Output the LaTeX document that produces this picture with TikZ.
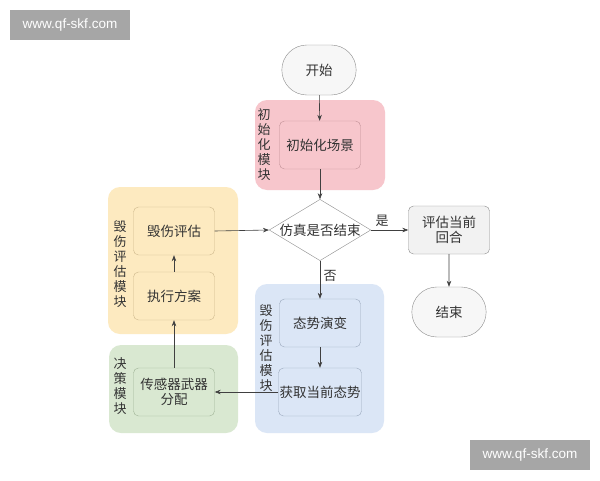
\documentclass[tikz,border=0pt]{standalone}
\usepackage{fontspec}
\setmainfont{Noto Sans CJK SC}
\newfontfamily\wmfont{Liberation Sans}
\usetikzlibrary{shapes.geometric,shapes.misc,arrows.meta}
\definecolor{pinkg}{HTML}{F7C6CC}
\definecolor{pinkb}{HTML}{C09096}
\definecolor{yelg}{HTML}{FDEAC0}
\definecolor{yelb}{HTML}{CDB78C}
\definecolor{blug}{HTML}{DBE6F6}
\definecolor{blub}{HTML}{9AA8BC}
\definecolor{greg}{HTML}{D9E8D1}
\definecolor{greb}{HTML}{9FB396}
\definecolor{txt}{HTML}{333333}
\begin{document}
\begin{tikzpicture}[x=1pt,y=-1pt,
  font=\fontsize{13.5}{15}\selectfont, text=txt,
  grp/.style={draw=none,rounded corners=12pt},
  inbox/.style={draw=#1,rounded corners=5pt,minimum width=81pt,minimum height=48pt,inner sep=1pt,align=center},
  term/.style={draw=black!45,fill=black!3,rounded rectangle,minimum width=81pt,minimum height=50pt},
  vlab/.style={align=center,inner sep=0pt,font=\fontsize{13}{15}\selectfont},
  arr/.style={draw=black!75,line width=0.6pt,-{Stealth[length=6pt,width=4.5pt]}},
  wm/.style={fill=black!35,text=white,font=\wmfont\fontsize{13.5}{15}\selectfont,minimum width=120pt,minimum height=30pt,inner sep=0pt}
]
\useasboundingbox (0,0) rectangle (600,480);
\fill[white] (0,0) rectangle (600,480);
% groups
\fill[pinkg,grp] (255,100) rectangle (385,190);
\fill[yelg,grp] (108,187) rectangle (238,334);
\fill[blug,grp] (255,284) rectangle (384,433);
\fill[greg,grp] (109,345) rectangle (238,433);
% group labels
\node[vlab] (lp) at (264,145) {初\\始\\化\\模\\块};
\node[vlab] (ly) at (120,264) {毁\\伤\\评\\估\\模\\块};
\node[vlab] (lb) at (266,348) {毁\\伤\\评\\估\\模\\块};
\node[vlab] (lg) at (120,386) {决\\策\\模\\块};
% nodes
\node[term] (start) at (319,70) {开始};
\node[inbox=pinkb,fill=pinkg] (init) at (320,145) {初始化场景};
\node[diamond,draw=black!45,fill=white,aspect=1.66,minimum width=98pt,minimum height=59pt,inner sep=0pt] (dec) at (320,230) {仿真是否结束};
\node[inbox=black!45,fill=black!5] (eval) at (449,230) {评估当前\\回合};
\node[term] (end) at (449,312) {结束};
\node[inbox=yelb,fill=yelg] (dmg) at (174,231) {毁伤评估};
\node[inbox=yelb,fill=yelg] (exe) at (174,296) {执行方案};
\node[inbox=blub,fill=blug] (evo) at (320,323) {态势演变};
\node[inbox=blub,fill=blug] (get) at (320,392) {获取当前态势};
\node[inbox=greb,fill=greg] (alloc) at (174,392) {传感器武器\\分配};
% arrows
\draw[arr] (start) -- (init);
\draw[arr] (init) -- (dec.north);
\draw[arr] (dec.east) -- node[above,pos=0.3,font=\fontsize{13}{15}\selectfont] (yes) {是} (eval.west);
\draw[arr] (eval) -- (end);
\draw[arr] (dec.south) -- node[right,pos=0.4,font=\fontsize{13}{15}\selectfont] (no) {否} (evo.north);
\draw[arr] (evo) -- (get);
\draw[arr] (get) -- (alloc);
\draw[arr] (alloc) -- (exe);
\draw[arr] (exe) -- (dmg);
\draw[arr] (dmg.east) -- (dec.west);
% watermarks
\node[wm] (wm1) at (70,25) {www.qf-skf.com};
\node[wm] (wm2) at (530,455) {www.qf-skf.com};
\end{tikzpicture}
\end{document}
